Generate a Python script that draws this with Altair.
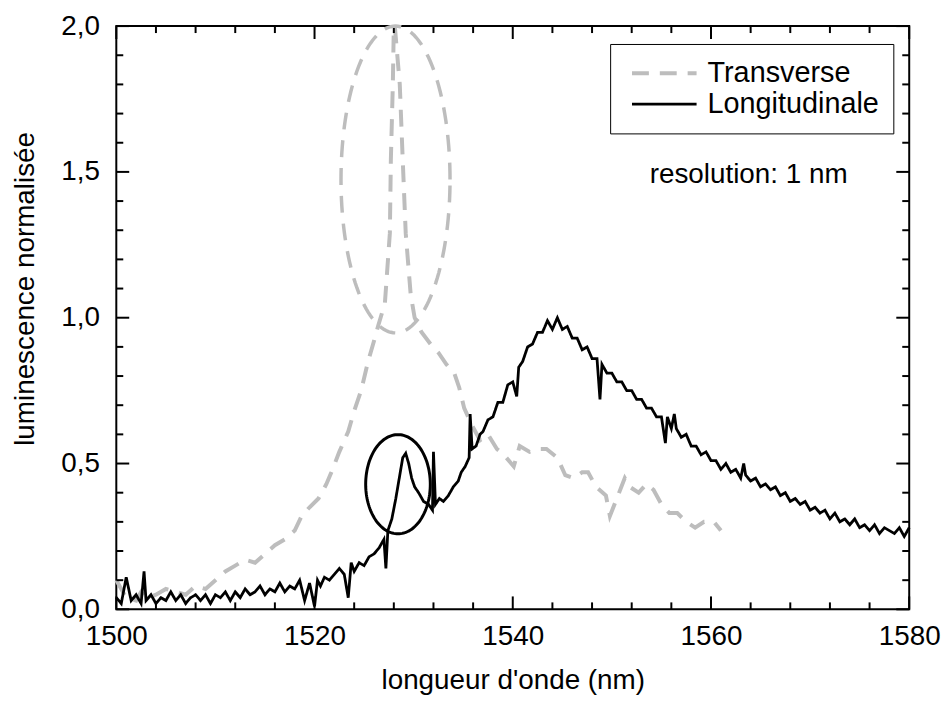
import altair as alt
import numpy as np
import pandas as pd

FONT = "Liberation Sans"

# ---- data (wavelength nm, normalised luminescence) ----
LONGITUDINAL = [
    (1500.0, 0.04), (1500.5, 0.02), (1501.0, 0.11), (1501.5, 0.03), (1502.0, 0.05),
    (1502.5, 0.02), (1502.8, 0.13), (1503.0, 0.03), (1503.5, 0.05), (1504.0, 0.02),
    (1504.5, 0.04), (1505.0, 0.03), (1505.5, 0.06), (1506.0, 0.03), (1506.5, 0.05),
    (1507.0, 0.02), (1507.5, 0.04), (1508.0, 0.05), (1508.5, 0.03), (1509.0, 0.05),
    (1509.5, 0.02), (1510.0, 0.05), (1510.5, 0.04), (1511.0, 0.06), (1511.5, 0.03),
    (1512.0, 0.06), (1512.5, 0.04), (1513.0, 0.07), (1513.5, 0.05), (1514.0, 0.06),
    (1514.5, 0.08), (1515.0, 0.05), (1515.5, 0.07), (1516.0, 0.06), (1516.5, 0.09),
    (1517.0, 0.06), (1517.5, 0.08), (1518.0, 0.07), (1518.5, 0.10), (1519.0, 0.03),
    (1519.5, 0.09), (1520.0, 0.01), (1520.3, 0.10), (1520.6, 0.08), (1521.0, 0.11),
    (1521.5, 0.10), (1522.0, 0.12), (1522.5, 0.14), (1523.0, 0.12), (1523.4, 0.04),
    (1523.7, 0.16), (1524.0, 0.13), (1524.5, 0.16), (1525.0, 0.15), (1525.5, 0.18),
    (1526.0, 0.19), (1526.5, 0.21), (1527.0, 0.24), (1527.2, 0.14), (1527.4, 0.27),
    (1527.8, 0.31), (1528.2, 0.38), (1528.6, 0.46), (1528.9, 0.52), (1529.2, 0.535),
    (1529.5, 0.50), (1529.8, 0.45), (1530.1, 0.42), (1530.5, 0.40), (1531.0, 0.37),
    (1531.5, 0.36), (1531.9, 0.34), (1532.0, 0.54), (1532.2, 0.36), (1532.6, 0.38),
    (1533.0, 0.37), (1533.5, 0.39), (1534.0, 0.42), (1534.5, 0.44), (1534.8, 0.47),
    (1535.2, 0.49), (1535.6, 0.52), (1535.7, 0.67), (1535.9, 0.55), (1536.3, 0.56),
    (1536.7, 0.60), (1537.0, 0.61), (1537.5, 0.65), (1538.0, 0.66), (1538.5, 0.71),
    (1539.0, 0.71), (1539.5, 0.77), (1540.0, 0.78), (1540.4, 0.73), (1540.6, 0.83),
    (1541.0, 0.85), (1541.5, 0.90), (1542.0, 0.91), (1542.5, 0.95), (1543.0, 0.95),
    (1543.5, 0.99), (1544.0, 0.96), (1544.5, 1.00), (1545.0, 0.96), (1545.5, 0.97),
    (1546.0, 0.93), (1546.5, 0.93), (1547.0, 0.89), (1547.5, 0.90), (1548.0, 0.86),
    (1548.5, 0.86), (1548.8, 0.72), (1549.0, 0.84), (1549.5, 0.81), (1550.0, 0.81),
    (1550.5, 0.78), (1551.0, 0.78), (1551.5, 0.75), (1552.0, 0.75), (1552.5, 0.72),
    (1553.0, 0.72), (1553.5, 0.69), (1554.0, 0.69), (1554.5, 0.66), (1555.0, 0.66),
    (1555.4, 0.57), (1555.6, 0.66), (1556.0, 0.62), (1556.3, 0.67), (1556.5, 0.62),
    (1557.0, 0.59), (1557.5, 0.60), (1558.0, 0.56), (1558.5, 0.56), (1559.0, 0.53),
    (1559.5, 0.54), (1560.0, 0.51), (1560.5, 0.51), (1561.0, 0.48), (1561.5, 0.50),
    (1562.0, 0.47), (1562.5, 0.48), (1563.0, 0.45), (1563.3, 0.50), (1563.5, 0.46),
    (1564.0, 0.44), (1564.5, 0.45), (1565.0, 0.42), (1565.5, 0.43), (1566.0, 0.41),
    (1566.5, 0.42), (1567.0, 0.39), (1567.5, 0.40), (1568.0, 0.37), (1568.5, 0.38),
    (1569.0, 0.36), (1569.5, 0.37), (1570.0, 0.34), (1570.5, 0.35), (1571.0, 0.33),
    (1571.5, 0.34), (1572.0, 0.31), (1572.5, 0.33), (1573.0, 0.30), (1573.5, 0.31),
    (1574.0, 0.29), (1574.5, 0.31), (1575.0, 0.28), (1575.5, 0.29), (1576.0, 0.27),
    (1576.5, 0.29), (1577.0, 0.26), (1577.5, 0.28), (1578.0, 0.27), (1578.5, 0.26),
    (1579.0, 0.28), (1579.5, 0.25), (1580.0, 0.28),
]

TRANSVERSE = [
    (1500.0, 0.10), (1500.5, 0.07), (1501.0, 0.04), (1502.0, 0.03), (1502.5, 0.06),
    (1503.0, 0.04), (1504.0, 0.05), (1505.0, 0.07), (1506.0, 0.06), (1507.0, 0.05),
    (1508.0, 0.08), (1509.0, 0.07), (1510.0, 0.10), (1511.0, 0.13), (1512.0, 0.15),
    (1513.0, 0.17), (1514.0, 0.16), (1515.0, 0.19), (1516.0, 0.22), (1517.0, 0.24),
    (1518.0, 0.27), (1518.7, 0.32), (1519.5, 0.35), (1520.4, 0.38), (1521.2, 0.43),
    (1521.7, 0.47), (1522.5, 0.54), (1523.4, 0.61), (1524.0, 0.68), (1524.7, 0.75),
    (1525.4, 0.85), (1526.0, 0.92), (1526.4, 0.97), (1527.1, 1.05), (1527.6, 1.29),
    (1527.7, 1.54), (1527.9, 1.80), (1528.0, 2.00), (1528.1, 2.00), (1528.6, 1.80),
    (1528.9, 1.54), (1529.2, 1.29), (1529.7, 1.08), (1530.1, 1.00), (1530.8, 0.95),
    (1531.7, 0.91), (1532.5, 0.88), (1533.3, 0.84), (1534.1, 0.81), (1534.6, 0.76),
    (1535.1, 0.69), (1535.9, 0.63), (1536.7, 0.58), (1537.5, 0.60), (1538.4, 0.55),
    (1539.1, 0.53), (1540.1, 0.49), (1540.7, 0.56), (1541.7, 0.54), (1542.6, 0.55),
    (1543.4, 0.55), (1544.5, 0.52), (1545.3, 0.46), (1546.1, 0.45), (1547.0, 0.47),
    (1547.6, 0.47), (1548.4, 0.42), (1549.4, 0.39), (1549.8, 0.32), (1550.5, 0.38),
    (1551.3, 0.45), (1551.8, 0.42), (1552.7, 0.40), (1553.5, 0.43), (1554.2, 0.41),
    (1555.0, 0.36), (1555.8, 0.33), (1556.6, 0.33), (1557.5, 0.30), (1558.4, 0.28),
    (1559.3, 0.30), (1560.3, 0.30), (1561.0, 0.27),
]

SERIES = ["Transverse", "Longitudinale"]
SERIES_COLORS = ["#bdbdbd", "#000000"]
SERIES_DASHES = [[17, 11], [1, 0]]
SERIES_WIDTHS = [4.0, 2.8]

# annotation ellipses (centre / radii in data units)
ELL_CX = [1528.17, 1528.42]
ELL_CY = [1.474, 0.429]
ELL_RX = [5.5, 3.26]
ELL_RY = [0.526, 0.170]

NOTE_WL = [1563.8]
NOTE_LUM = [1.49]
NOTE_TEXT = ["resolution: 1 nm"]

X_MAJOR = [1500, 1520, 1540, 1560, 1580]
X_MINOR = [v for v in range(1500, 1581, 4) if v not in X_MAJOR]
Y_MAJOR = [0.0, 0.5, 1.0, 1.5, 2.0]
Y_MINOR = [round(i * 0.1, 1) for i in range(21) if i % 5]

# ---- tables ----
trans_df = pd.DataFrame(TRANSVERSE, columns=["wl", "lum"]).assign(series=SERIES[0])
long_df = pd.DataFrame(LONGITUDINAL, columns=["wl", "lum"]).assign(series=SERIES[1])


def ellipse(k):
    t = np.linspace(0, 2 * np.pi, 145)
    return pd.DataFrame({
        "wl": ELL_CX[k] + ELL_RX[k] * np.cos(t),
        "lum": ELL_CY[k] + ELL_RY[k] * np.sin(t),
        "i": np.arange(len(t)),
    })


ell_gray = ellipse(0)
ell_black = ellipse(1)
note_df = pd.DataFrame({"wl": NOTE_WL, "lum": NOTE_LUM, "text": NOTE_TEXT})

W, H = 798, 587
XS = alt.Scale(domain=[1500, 1580], nice=False, zero=False)
YS = alt.Scale(domain=[0, 2], nice=False, zero=False)
MAJ, MIN = 13, 7
PX_X = 80.0 / W   # data units per pixel along x
PX_Y = 2.0 / H    # data units per pixel along y

# inward tick segments on all four sides, as short polylines in data space
tick_rows = []
for vals, size in ((X_MAJOR, MAJ), (X_MINOR, MIN)):
    for v in vals:
        for side, (lo, hi) in (("b", (0.0, size * PX_Y)), ("t", (2.0, 2.0 - size * PX_Y))):
            tid = f"x{side}{v}"
            tick_rows += [(tid, 0, float(v), lo), (tid, 1, float(v), hi)]
for vals, size in ((Y_MAJOR, MAJ), (Y_MINOR, MIN)):
    for v in vals:
        for side, (lo, hi) in (("l", (1500.0, 1500.0 + size * PX_X)),
                               ("r", (1580.0, 1580.0 - size * PX_X))):
            tid = f"y{side}{v}"
            tick_rows += [(tid, 0, lo, float(v)), (tid, 1, hi, float(v))]
tick_df = pd.DataFrame(tick_rows, columns=["tid", "k", "wl", "lum"])

x_axis = alt.Axis(values=X_MAJOR, format="d", ticks=False, domain=False, grid=False,
                  labelFontSize=28, labelPadding=13, labelFlush=False,
                  title="longueur d'onde (nm)", titleFontSize=28, titlePadding=17)
y_axis = alt.Axis(values=Y_MAJOR, ticks=False, domain=False, grid=False,
                  labelExpr="replace(format(datum.value, '.1f'), '.', ',')",
                  labelFontSize=28, labelPadding=17,
                  title="luminescence normalisée", titleFontSize=28,
                  titlePadding=21, titleY=264)

LEG = alt.Legend(title=None, orient="none", legendX=497, legendY=18,
                 fillColor="white", strokeColor="black", padding=14,
                 labelFont=FONT, labelFontSize=29, labelColor="black",
                 labelLimit=400,
                 symbolType="stroke", symbolSize=4225, clipHeight=31,
                 rowPadding=0, symbolOffset=6, labelOffset=9)

color_enc = alt.Color("series:N", scale=alt.Scale(domain=SERIES, range=SERIES_COLORS), legend=LEG)
dash_enc = alt.StrokeDash("series:N", scale=alt.Scale(domain=SERIES, range=SERIES_DASHES), legend=LEG)
width_enc = alt.StrokeWidth("series:N", scale=alt.Scale(domain=SERIES, range=SERIES_WIDTHS), legend=LEG)

trans_layer = alt.Chart(trans_df).mark_line().encode(
    x=alt.X("wl:Q", scale=XS, axis=x_axis),
    y=alt.Y("lum:Q", scale=YS, axis=y_axis),
    color=color_enc, strokeDash=dash_enc, strokeWidth=width_enc,
)

long_layer = alt.Chart(long_df).mark_line().encode(
    x=alt.X("wl:Q", scale=XS),
    y=alt.Y("lum:Q", scale=YS),
    color=color_enc, strokeDash=dash_enc, strokeWidth=width_enc,
)

tick_layer = alt.Chart(tick_df).mark_line(color="black", strokeWidth=2).encode(
    x=alt.X("wl:Q", scale=XS),
    y=alt.Y("lum:Q", scale=YS),
    detail="tid:N",
    order="k:Q",
)

gray_ell_layer = alt.Chart(ell_gray).mark_line(
    color=SERIES_COLORS[0], strokeDash=[17, 11], strokeWidth=3.5
).encode(
    x=alt.X("wl:Q", scale=XS),
    y=alt.Y("lum:Q", scale=YS),
    order="i:Q",
)

black_ell_layer = alt.Chart(ell_black).mark_line(
    color="black", strokeWidth=3
).encode(
    x=alt.X("wl:Q", scale=XS),
    y=alt.Y("lum:Q", scale=YS),
    order="i:Q",
)

note_layer = alt.Chart(note_df).mark_text(
    font=FONT, fontSize=28, color="black", align="center", baseline="middle"
).encode(
    x=alt.X("wl:Q", scale=XS),
    y=alt.Y("lum:Q", scale=YS),
    text="text:N",
)

chart = alt.layer(
    trans_layer, long_layer, tick_layer, gray_ell_layer, black_ell_layer, note_layer
).properties(
    width=W, height=H,
    autosize=alt.AutoSizeParams(type="none"),
    padding={"left": 109, "top": 16, "right": 34, "bottom": 84},
).configure_view(
    stroke="black", strokeWidth=2
).configure_axis(
    labelFont=FONT, titleFont=FONT, labelColor="black", titleColor="black",
    titleFontWeight="normal"
)

chart.save("out.html", embed_options={"renderer": "svg", "actions": False})
